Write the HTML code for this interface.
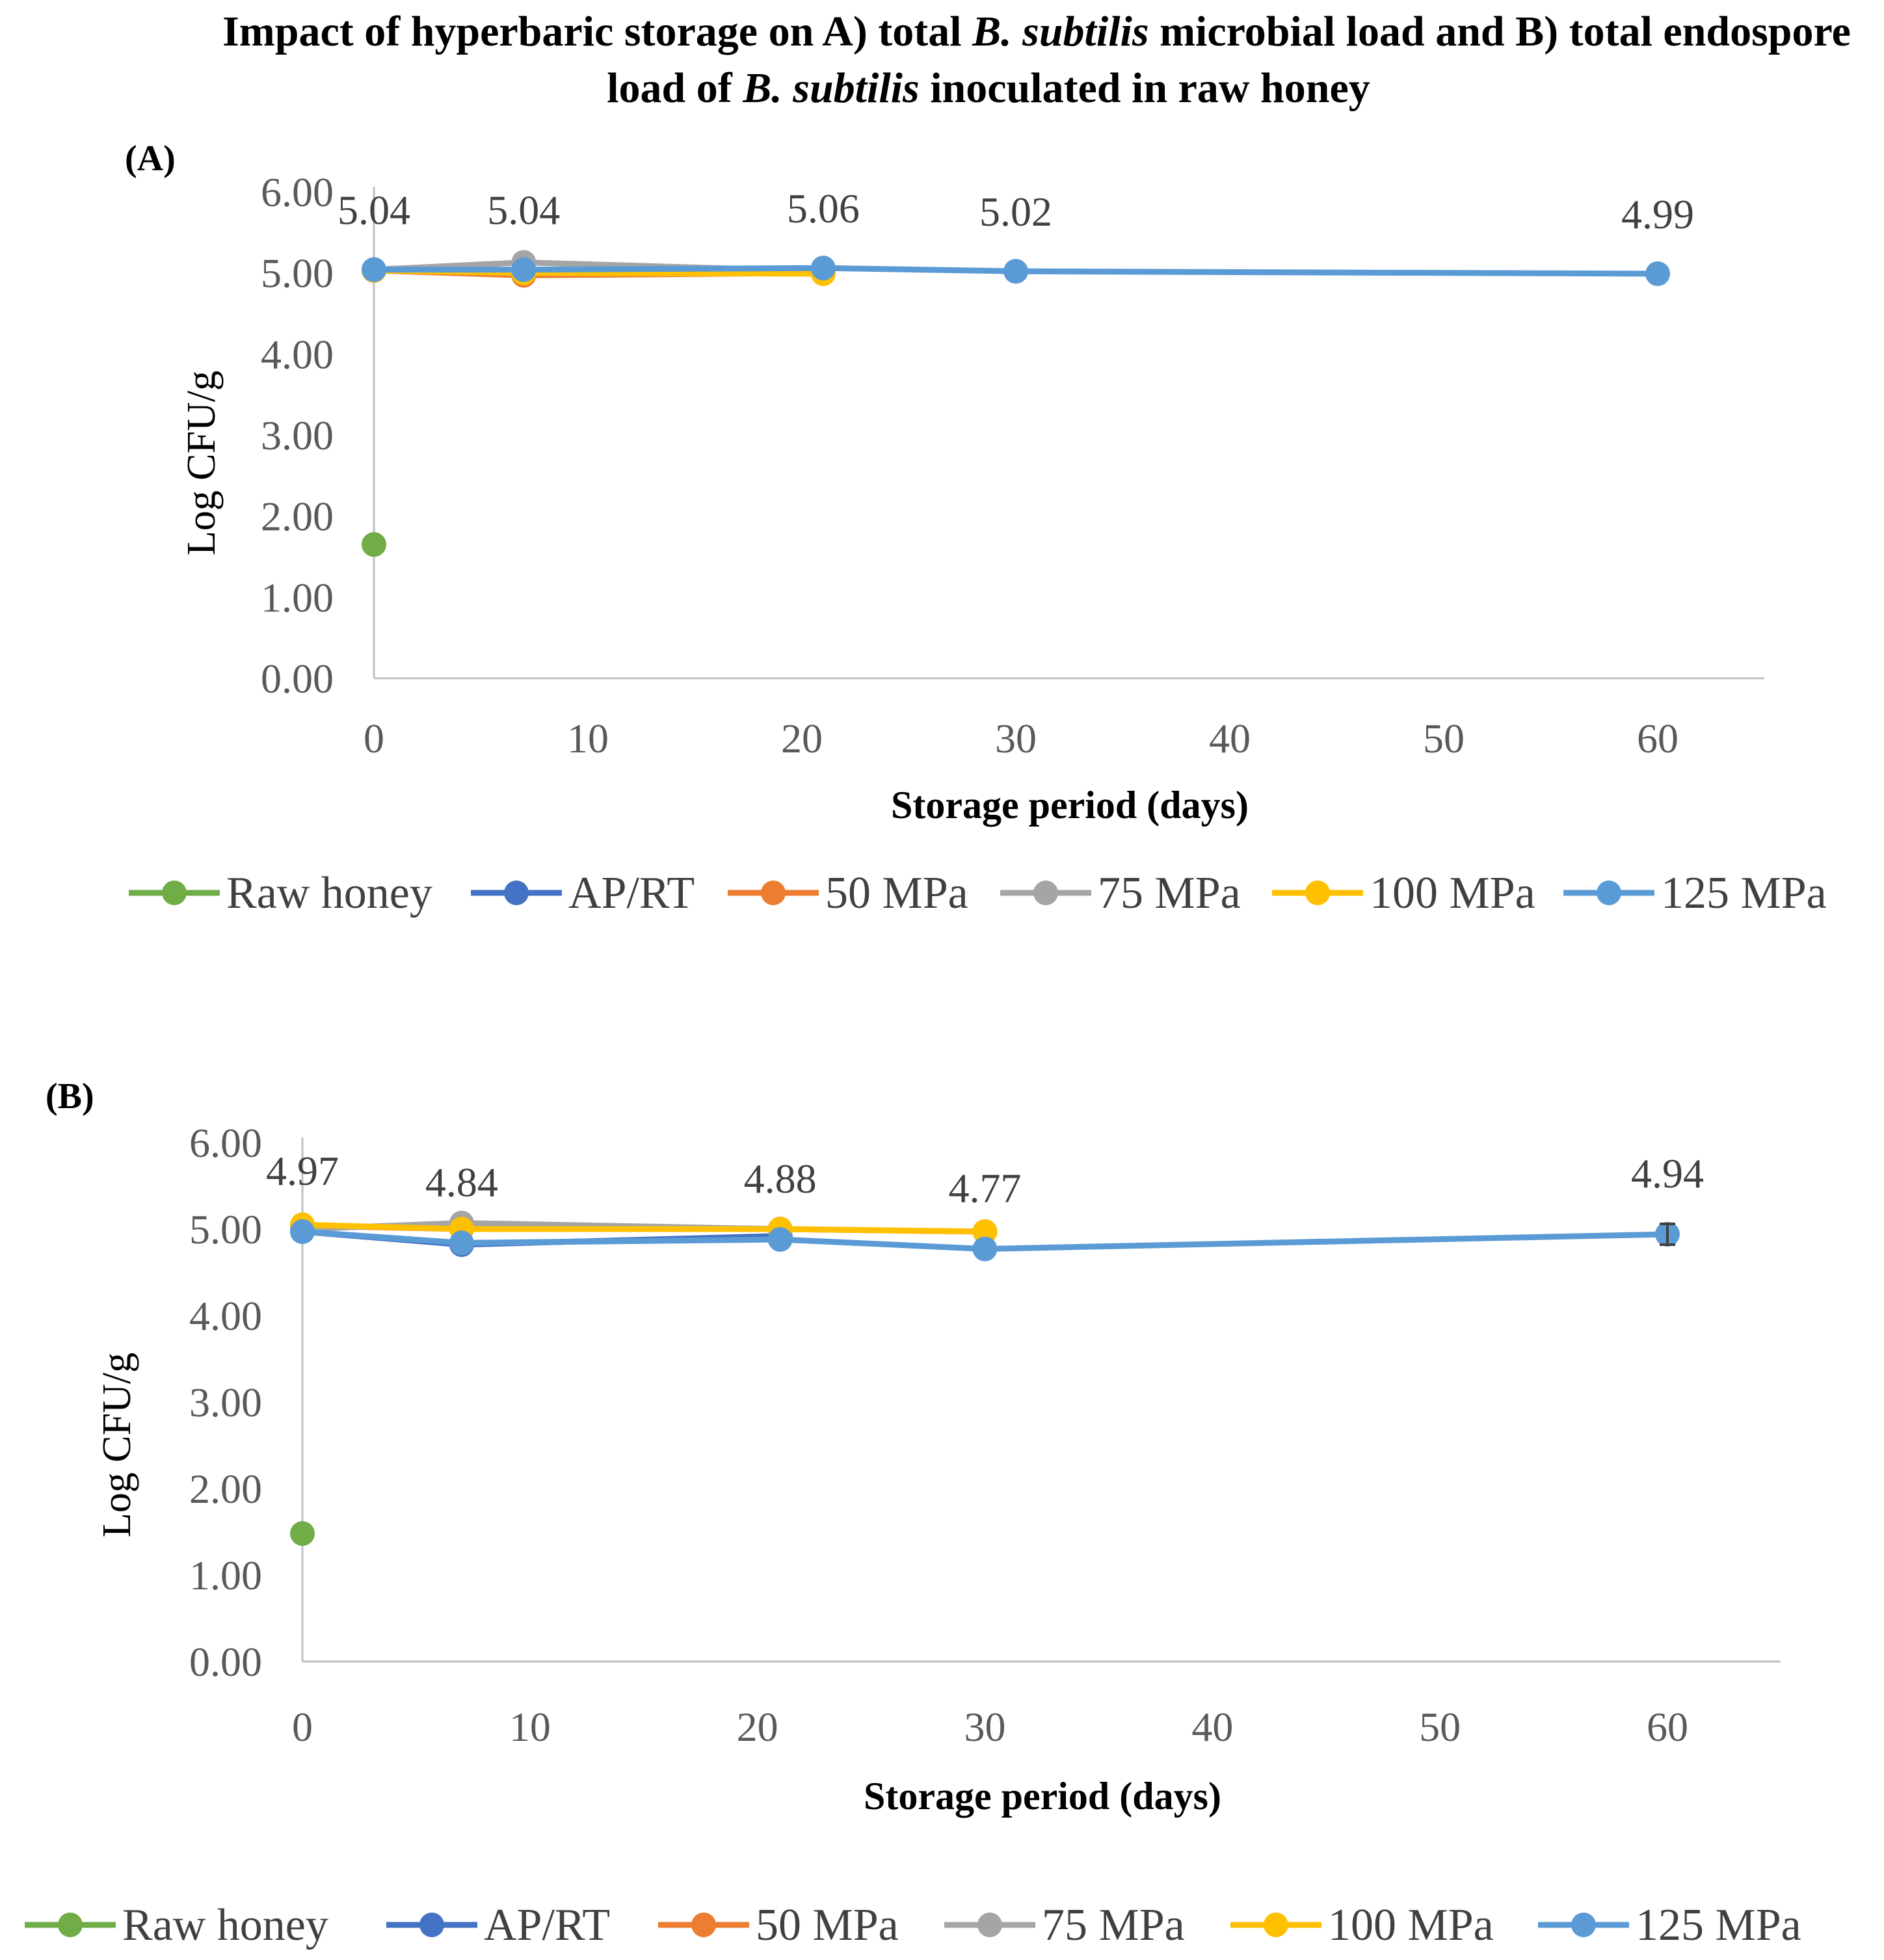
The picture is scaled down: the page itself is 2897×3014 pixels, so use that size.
<!DOCTYPE html>
<html><head><meta charset="utf-8">
<style>
html,body{margin:0;padding:0;background:#fff;}
svg{display:block;}
text{font-family:"Liberation Serif","DejaVu Serif",serif;}
</style></head>
<body>
<svg id="fig" width="2897" height="3014" viewBox="0 0 2897 3014" xmlns="http://www.w3.org/2000/svg">
<text x="1594" y="70" text-anchor="middle" font-size="66" font-weight="bold" fill="#000">Impact of hyperbaric storage on A) total <tspan font-style="italic">B. subtilis</tspan> microbial load and B) total endospore</text>
<text x="1520" y="157" text-anchor="middle" font-size="66" font-weight="bold" fill="#000">load of <tspan font-style="italic">B. subtilis</tspan> inoculated in raw honey</text>
<g id="chartA"></g>
<g id="chartB"></g>
</svg>
<script>
const seriesNames = ["Raw honey","AP/RT","50 MPa","75 MPa","100 MPa","125 MPa"];
const seriesColors = ["#70AD47","#4472C4","#ED7D31","#A5A5A5","#FFC000","#5B9BD5"];
const xTicks = [0,10,20,30,40,50,60];
const yTicks = [0,1,2,3,4,5,6];
const yTickLabels = ["0.00","1.00","2.00","3.00","4.00","5.00","6.00"];

// Chart A data
const aRawDays = [0];        const aRawVals = [1.65];
const aAPDays = [0,7,21];    const aAPVals = [5.04,5.02,5.02];
const a50Days = [0,7,21];    const a50Vals = [5.03,4.97,5.00];
const a75Days = [0,7,21];    const a75Vals = [5.04,5.13,5.02];
const a100Days = [0,7,21];   const a100Vals = [5.03,5.00,4.99];
const a125Days = [0,7,21,30,60]; const a125Vals = [5.04,5.04,5.06,5.02,4.99];
const a125Labels = ["5.04","5.04","5.06","5.02","4.99"];

// Chart B data
const bRawDays = [0];        const bRawVals = [1.48];
const bAPDays = [0,7,21];    const bAPVals = [4.97,4.82,4.92];
const b50Days = [0,7,21,30]; const b50Vals = [5.04,5.00,5.00,4.97];
const b75Days = [0,7,21];    const b75Vals = [5.00,5.07,5.00];
const b100Days = [0,7,21,30];const b100Vals = [5.05,5.00,5.00,4.97];
const b125Days = [0,7,21,30,60]; const b125Vals = [4.97,4.84,4.88,4.77,4.94];
const b125Labels = ["4.97","4.84","4.88","4.77","4.94"];
const b125Err = [0,0,0,0,0.12];

const NS="http://www.w3.org/2000/svg";
function mk(parent,tag,attrs,txt){const e=document.createElementNS(NS,tag);for(const k in attrs)e.setAttribute(k,attrs[k]);if(txt!==undefined)e.textContent=txt;parent.appendChild(e);return e;}

function drawChart(gid,L,series,labels,errs){
  const g=document.getElementById(gid);
  const xs=d=>L.x0+(L.x60-L.x0)*d/60;
  const ys=v=>L.y0-(L.y0-L.y6)*v/6;
  let t=mk(g,'text',{x:L.panelX,y:L.panelY,'font-size':56,'font-weight':'bold',fill:'#000'},L.panel);
  
  
  let ax=mk(g,'line',{x1:L.x0,y1:ys(6)-8,x2:L.x0,y2:L.y0,stroke:'#bfbfbf','stroke-width':3});
  
  
  let bx=mk(g,'line',{x1:L.x0,y1:L.y0,x2:L.xEnd,y2:L.y0,stroke:'#bfbfbf','stroke-width':3});
  
  
  yTicks.forEach((v,i)=>{
    const e=mk(g,'text',{x:L.x0-62,y:ys(v)+22,'font-size':64,'text-anchor':'end',fill:'#595959'},yTickLabels[i]);
    
    
  });
  xTicks.forEach(v=>{
    const e=mk(g,'text',{x:xs(v),y:L.tickY,'font-size':64,'text-anchor':'middle',fill:'#595959'},String(v));
    
    
  });
  const xt=mk(g,'text',{x:L.xTitleX,y:L.xTitleY,'font-size':60,'font-weight':'bold','text-anchor':'middle',fill:'#000'},'Storage period (days)');
  
  
  const yt=mk(g,'text',{x:0,y:0,'font-size':62,'text-anchor':'middle',fill:'#000',transform:`translate(${L.yTitleX},${L.yTitleY}) rotate(-90)`},'Log CFU/g');
  
  
  series.forEach((s,si)=>{
    const col=seriesColors[si];
    if(s.d.length>1){
      const p=mk(g,'polyline',{points:s.d.map((d,i)=>xs(d)+','+ys(s.v[i])).join(' '),fill:'none',stroke:col,'stroke-width':9,'stroke-linejoin':'round'});
      
      
    }
    s.d.forEach((d,i)=>{
      const c=mk(g,'circle',{cx:xs(d),cy:ys(s.v[i]),r:19,fill:col});
      
      
    });
  });
  const last=series[5];
  if(errs){last.d.forEach((d,i)=>{if(errs[i]>0){
    const x=xs(d),y1=ys(last.v[i]+errs[i]),y2=ys(last.v[i]-errs[i]);
    const e=mk(g,'path',{d:`M${x},${y1}V${y2}M${x-12},${y1}H${x+12}M${x-12},${y2}H${x+12}`,stroke:'#404040','stroke-width':4,fill:'none'});
    
    
  }});}
  last.d.forEach((d,i)=>{
    const e=mk(g,'text',{x:xs(d),y:ys(last.v[i])-L.labOff,'font-size':64,'text-anchor':'middle',fill:'#404040'},labels[i]);
    
    
  });
  seriesNames.forEach((n,i)=>{
    const lx=L.legX[i];
    const lg=mk(g,'g',{});
    
    
    mk(lg,'line',{x1:lx,y1:L.legY,x2:lx+140,y2:L.legY,stroke:seriesColors[i],'stroke-width':9});
    mk(lg,'circle',{cx:lx+70,cy:L.legY,r:19,fill:seriesColors[i]});
    mk(lg,'text',{x:lx+150,y:L.legY+23,'font-size':70,fill:'#404040'},n);
  });
}

drawChart('chartA',{panel:'(A)',panelX:192,panelY:262,x0:575,x60:2549,xEnd:2713,y0:1043,y6:295,tickY:1157,xTitleX:1645,xTitleY:1258,yTitleX:330,yTitleY:712,labOff:70,legY:1373,legX:[198,724,1119,1538,1956,2404]},
 [{d:aRawDays,v:aRawVals},{d:aAPDays,v:aAPVals},{d:a50Days,v:a50Vals},{d:a75Days,v:a75Vals},{d:a100Days,v:a100Vals},{d:a125Days,v:a125Vals}],a125Labels,null);

drawChart('chartB',{panel:'(B)',panelX:70,panelY:1704,x0:465,x60:2564,xEnd:2738,y0:2555,y6:1757,tickY:2677,xTitleX:1603,xTitleY:2782,yTitleX:200,yTitleY:2222,labOff:72,legY:2960,legX:[38,594,1012,1452,1892,2365]},
 [{d:bRawDays,v:bRawVals},{d:bAPDays,v:bAPVals},{d:b50Days,v:b50Vals},{d:b75Days,v:b75Vals},{d:b100Days,v:b100Vals},{d:b125Days,v:b125Vals}],b125Labels,b125Err);
</script>
</body></html>
